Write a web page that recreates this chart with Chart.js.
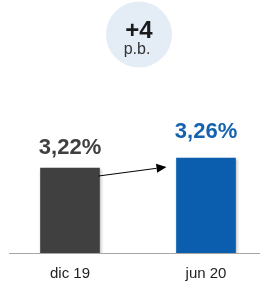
<!DOCTYPE html>
<html>
<head>
<meta charset="utf-8">
<script src="https://cdn.jsdelivr.net/npm/chart.js@4/dist/chart.umd.min.js"></script>
<style>
  html, body { margin: 0; padding: 0; background: #fff; }
  #wrap { width: 260px; height: 282px; }
</style>
</head>
<body>
<div id="wrap"><canvas id="chart"></canvas></div>
<script>
const periods = ['dic 19', 'jun 20'];
const rates = [3.22, 3.26];
const barColors = ['#404040', '#0b5eae'];
const labelColors = ['#404040', '#1563b0'];
const diffValue = '+4';
const diffUnit = 'p.b.';

const FONT = '"Liberation Sans", Arial, sans-serif';

const fmt = (v) => v.toFixed(2).replace('.', ',') + '%';

// shadow + baseline + value labels + arrow + bubble
const decor = {
    id: 'decor',
    beforeDatasetsDraw(chart) {
        const ctx = chart.ctx;
        ctx.save();
        ctx.strokeStyle = '#a6a6a6';
        ctx.lineWidth = 1;
        ctx.beginPath();
        ctx.moveTo(9, chart.chartArea.bottom + 0.5);
        ctx.lineTo(chart.width, chart.chartArea.bottom + 0.5);
        ctx.stroke();
        ctx.restore();

        ctx.save();
        ctx.shadowColor = 'rgba(0,0,0,0.3)';
        ctx.shadowBlur = 3;
        ctx.shadowOffsetX = 1;
        ctx.shadowOffsetY = 1;
    },
    afterDatasetsDraw(chart) {
        const ctx = chart.ctx;
        ctx.restore();

        const bars = chart.getDatasetMeta(0).data;
        const offsets = [14, 20];

        ctx.save();
        ctx.font = 'bold 22px ' + FONT;
        ctx.textAlign = 'center';
        ctx.textBaseline = 'alphabetic';
        bars.forEach((bar, i) => {
            ctx.fillStyle = labelColors[i];
            ctx.fillText(fmt(rates[i]), bar.x, bar.y - offsets[i]);
        });
        ctx.restore();

        // arrow
        const a = bars[0], b = bars[1];
        const x1 = a.x + a.width / 2 - 1, y1 = a.y + 8;
        const x2 = b.x - b.width / 2 - 10, y2 = b.y + 9;
        const ang = Math.atan2(y2 - y1, x2 - x1);
        const hl = 10, hw = 4.5;
        ctx.save();
        ctx.strokeStyle = '#000';
        ctx.fillStyle = '#000';
        ctx.lineWidth = 1;
        ctx.beginPath();
        ctx.moveTo(x1, y1);
        ctx.lineTo(x2 - hl * Math.cos(ang), y2 - hl * Math.sin(ang));
        ctx.stroke();
        ctx.beginPath();
        ctx.moveTo(x2, y2);
        ctx.lineTo(x2 - hl * Math.cos(ang) + hw * Math.sin(ang), y2 - hl * Math.sin(ang) - hw * Math.cos(ang));
        ctx.lineTo(x2 - hl * Math.cos(ang) - hw * Math.sin(ang), y2 - hl * Math.sin(ang) + hw * Math.cos(ang));
        ctx.closePath();
        ctx.fill();
        ctx.restore();
    },
    afterDraw(chart) {
        const ctx = chart.ctx;
        ctx.save();
        ctx.fillStyle = '#e4ecf6';
        ctx.beginPath();
        ctx.arc(139, 34.5, 33, 0, Math.PI * 2);
        ctx.fill();
        ctx.textAlign = 'center';
        ctx.textBaseline = 'alphabetic';
        ctx.fillStyle = '#1a1a1a';
        ctx.font = 'bold 24px ' + FONT;
        ctx.fillText(diffValue, 139, 38);
        ctx.fillStyle = '#333';
        ctx.font = '16px ' + FONT;
        ctx.fillText(diffUnit, 137, 54);
        ctx.restore();
    }
};

new Chart(document.getElementById('chart'), {
    type: 'bar',
    data: {
        labels: periods,
        datasets: [{
            data: rates,
            backgroundColor: barColors,
            barThickness: 59,
            clip: { left: 40, right: 40, top: 0, bottom: 0 }
        }]
    },
    options: {
        responsive: true,
        maintainAspectRatio: false,
        animation: false,
        layout: {
            padding: { top: 103, left: 70, right: 54, bottom: 0 }
        },
        plugins: {
            legend: { display: false },
            tooltip: { enabled: false }
        },
        scales: {
            x: {
                offset: false,
                grid: { display: false, drawTicks: false },
                border: { display: false },
                ticks: {
                    color: '#222',
                    font: { family: FONT, size: 15 },
                    padding: 12
                },
                afterFit(scale) {
                    scale.height = 29;
                }
            },
            y: {
                display: false,
                min: 2.88,
                max: 3.48
            }
        }
    },
    plugins: [decor]
});
</script>
</body>
</html>
